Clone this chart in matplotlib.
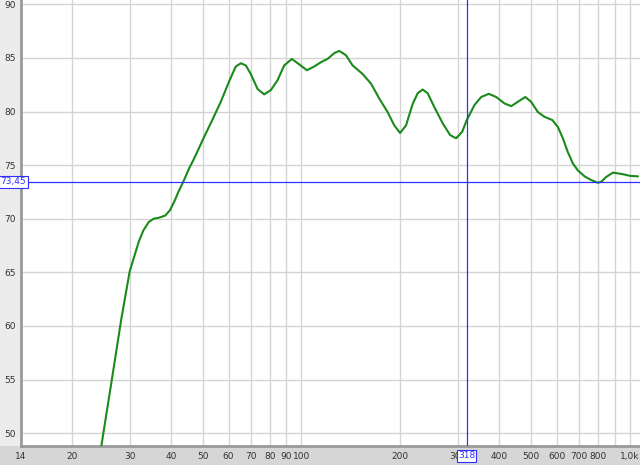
import matplotlib.pyplot as plt
import matplotlib.patches as patches

# frequency response readings (Hz, dB)
freq = [24.5, 26.5, 28.3, 30.0, 32.0, 33.0, 34.3, 35.5, 36.9, 38.5, 39.8,
        41.0, 42.2, 43.9, 45.5, 47.1, 50.5, 53.5, 56.8, 60.2, 63.1, 65.4,
        67.7, 70.1, 73.5, 77.0, 80.7, 84.5, 88.6, 93.5, 98.4, 103.9, 109.4,
        114.6, 120, 125.9, 130.3, 136.6, 143.1, 153.5, 162.8, 172.6, 182.9,
        191.7, 199.6, 208.1, 218, 225.8, 233.9, 242.2, 253.9, 269.1, 283.5,
        295.6, 308.4, 318.6, 336.2, 352.4, 371.8, 391.7, 415.1, 435, 455.6,
        480, 500.4, 524.4, 549.6, 580.3, 603.5, 624.9, 647.3, 670.4, 694.3,
        727.8, 762.9, 798.8, 818, 847, 888, 952, 1000, 1058]
spl = [48.5, 55.1, 60.7, 65.1, 67.9, 68.9, 69.7, 70.0, 70.1, 70.3, 70.8,
       71.6, 72.5, 73.6, 74.7, 75.6, 77.6, 79.2, 80.9, 82.8, 84.2, 84.5,
       84.3, 83.5, 82.1, 81.6, 82.0, 82.9, 84.3, 84.9, 84.4, 83.85, 84.2,
       84.6, 84.9, 85.45, 85.65, 85.25, 84.3, 83.5, 82.6, 81.2, 79.95,
       78.7, 78.0, 78.7, 80.7, 81.7, 82.05, 81.7, 80.4, 78.9, 77.8,
       77.5, 78.1, 79.2, 80.6, 81.35, 81.65, 81.35, 80.75, 80.5, 80.9,
       81.35, 80.9, 79.95, 79.5, 79.2, 78.55, 77.5, 76.2, 75.15, 74.5,
       73.95, 73.6, 73.35, 73.45, 73.9, 74.3, 74.15, 74.0, 73.95]

xticks = [14, 20, 30, 40, 50, 60, 70, 80, 90, 100, 200, 300, 400, 500, 600, 700, 800, 1000]
xlabels = ['14', '20', '30', '40', '50', '60', '70', '80', '90', '100', '200', '300',
           '400', '500', '600', '700', '800', '1,0k']
xgrid = [20, 30, 40, 50, 60, 70, 80, 90, 100, 200, 300, 400, 500, 600, 700, 800, 900, 1000]
yticks = [50, 55, 60, 65, 70, 75, 80, 85, 90]

cursor_x = 318
cursor_y = 73.45

W, H = 640, 465
fig = plt.figure(figsize=(W / 100, H / 100), dpi=100, facecolor='#d6d6d6')

# left label band
fig.patches.append(patches.Rectangle((0, 19 / H), 21 / W, 1, transform=fig.transFigure,
                                     facecolor='#ececec', edgecolor='none', zorder=-5))

ax = fig.add_axes([21 / W, 19 / H, 1 - 21 / W, 1 - 19 / H])
ax.set_xscale('log')
ax.set_xlim(14, 1073)
ax.set_ylim(48.8, 90.4)

for g in xgrid:
    ax.axvline(g, color='#d4d4d4', lw=1, zorder=1)
for g in yticks:
    ax.axhline(g, color='#d4d4d4', lw=1, zorder=1)

ax.plot(freq, spl, color='#1a8a1a', lw=1.5, zorder=3, solid_capstyle='round',
        solid_joinstyle='round')

ax.axvline(cursor_x, color='#3030ff', lw=0.9, zorder=4)
ax.axhline(cursor_y, color='#3030ff', lw=0.9, zorder=4)

ax.set_xticks(xticks)
ax.set_xticklabels(xlabels)
ax.minorticks_off()
ax.set_yticks(yticks)
ax.tick_params(axis='both', length=0, labelsize=6.5, colors='#333333')
ax.tick_params(axis='x', pad=4)
ax.tick_params(axis='y', pad=4)

for s in ['top', 'right']:
    ax.spines[s].set_visible(False)
ax.spines['left'].set_color('#9a9a9a')
ax.spines['left'].set_linewidth(2)
ax.spines['bottom'].set_color('#9a9a9a')
ax.spines['bottom'].set_linewidth(2)

# cursor value boxes
box = dict(boxstyle='square,pad=0.15', facecolor='white', edgecolor='#3030ff', lw=0.8)
ax.annotate('73,45', xy=(0, cursor_y), xycoords=('figure fraction', 'data'),
            xytext=(0.5, 0), textcoords='offset points', ha='left', va='center',
            fontsize=6.5, color='#3030ff', bbox=box, zorder=6, annotation_clip=False)
ax.annotate('318', xy=(cursor_x, 0), xycoords=('data', 'axes fraction'),
            xytext=(0, -7), textcoords='offset points', ha='center', va='center',
            fontsize=6.5, color='#3030ff', bbox=box, zorder=6, annotation_clip=False)

fig.savefig('out.png', dpi=100, facecolor=fig.get_facecolor())
